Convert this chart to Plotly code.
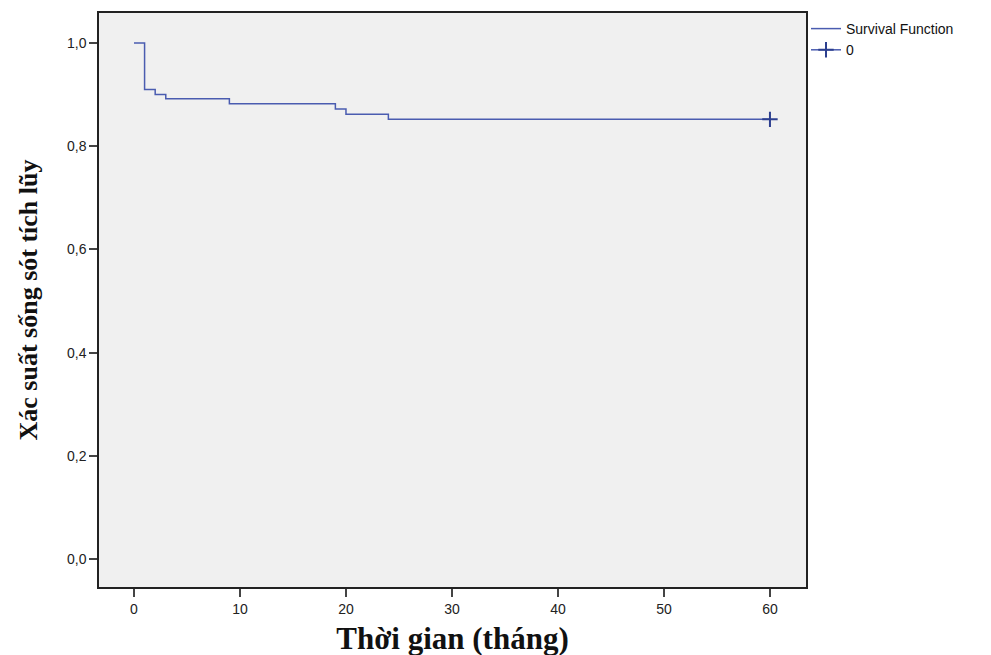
import plotly.graph_objects as go

times = [0, 1, 2, 3, 9, 19, 20, 24, 60]
survival = [1.0, 0.91, 0.90, 0.892, 0.882, 0.872, 0.862, 0.852, 0.852]
censor_times = [60]
censor_surv = [0.852]
x_ticks = [0, 10, 20, 30, 40, 50, 60]
y_ticks = [0.0, 0.2, 0.4, 0.6, 0.8, 1.0]

line_color = "#4a5cb0"

fig = go.Figure()
fig.add_trace(go.Scatter(
    x=times, y=survival, mode="lines", line=dict(color=line_color, width=1.5, shape="hv"),
    name="Survival Function"))
fig.add_trace(go.Scatter(
    x=censor_times, y=censor_surv, mode="lines+markers",
    line=dict(color=line_color, width=1.5),
    marker=dict(symbol="cross-thin", size=11, line=dict(color="#2c3f8f", width=2)),
    name="0"))

fig.update_layout(
    width=984, height=648,
    margin=dict(l=91, r=186, t=5, b=69),
    paper_bgcolor="white", plot_bgcolor="#f0f0f0",
    separators=",.",
    font=dict(family="Liberation Sans, Arial", size=14, color="#222"),
    showlegend=True,
    legend=dict(x=1.0, y=1.0, xanchor="left", yanchor="top",
                font=dict(size=14, color="#111"), bgcolor="rgba(0,0,0,0)",
                tracegroupgap=0, itemwidth=30),
    xaxis=dict(range=[-3.3, 63.4], tickvals=x_ticks, ticks="outside", ticklen=8,
               tickcolor="#444", tickwidth=2, showgrid=False, zeroline=False,
               showline=True, linecolor="#222", linewidth=1.5, mirror=True,
               automargin=False,
               title=dict(text="<b>Thời gian (tháng)</b>",
                          font=dict(family="Liberation Serif, Times New Roman", size=31, color="#111"),
                          standoff=20)),
    yaxis=dict(range=[-0.054, 1.058], tickvals=y_ticks, tickformat=".1f", ticks="outside",
               ticklen=8, tickcolor="#444", tickwidth=1.5, showgrid=False, zeroline=False,
               showline=True, linecolor="#222", linewidth=1.5, mirror=True,
               automargin=False,
               title=dict(text="<b>Xác suất sống sót tích lũy</b>",
                          font=dict(family="Liberation Serif, Times New Roman", size=26, color="#111"),
                          standoff=22)),
)

fig.write_html("out.html")
